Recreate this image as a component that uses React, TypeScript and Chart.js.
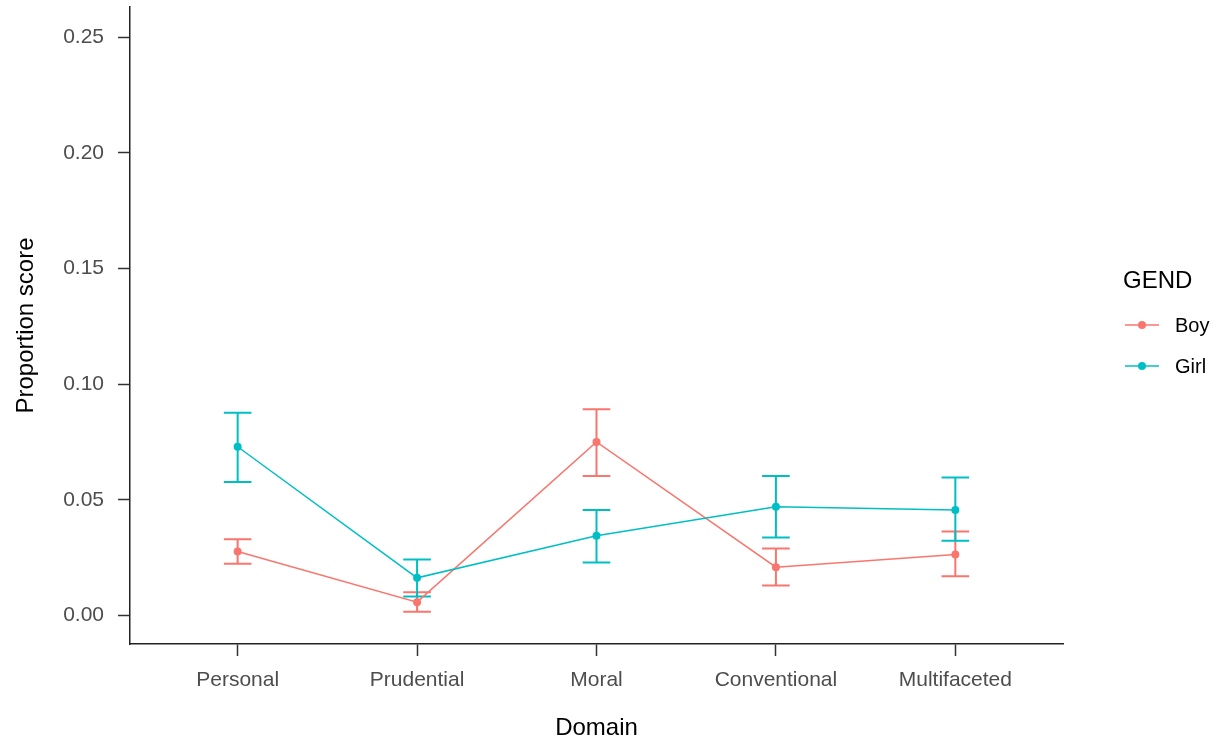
import React, { useEffect, useRef } from "react";
import { Chart, registerables } from "chart.js";

Chart.register(...registerables);

// Domains on the x axis and the two gender groups
const domains = ["Personal", "Prudential", "Moral", "Conventional", "Multifaceted"];
const groups = ["Boy", "Girl"];
const groupColors = ["#F8766D", "#00BFC4"];
const legendTitle = "GEND";

// Mean proportion scores with lower / upper error bounds
const boyMean = [0.0276, 0.0057, 0.075, 0.0208, 0.0263];
const boyLower = [0.0223, 0.0015, 0.0603, 0.0129, 0.0169];
const boyUpper = [0.0329, 0.01, 0.0891, 0.0289, 0.0362];
const girlMean = [0.0729, 0.0162, 0.0344, 0.047, 0.0456];
const girlLower = [0.0577, 0.0081, 0.0228, 0.0336, 0.0323];
const girlUpper = [0.0876, 0.0241, 0.0456, 0.0603, 0.0596];

const yTickValues = [0, 0.05, 0.1, 0.15, 0.2, 0.25];

const FONT = "'Liberation Sans', Arial, sans-serif";
const CAP_HALF = 0.077;

const errorBarPlugin = {
  id: "errorBars",
  beforeDatasetsDraw(chart: any) {
    const { ctx, chartArea } = chart;
    const xs = chart.scales.x;
    const ys = chart.scales.y;
    ctx.save();
    ctx.beginPath();
    ctx.rect(chartArea.left, chartArea.top, chartArea.right - chartArea.left, chartArea.bottom - chartArea.top);
    ctx.clip();
    chart.data.datasets.forEach((ds: any) => {
      ctx.strokeStyle = ds.borderColor;
      ctx.lineWidth = 2;
      ds.data.forEach((pt: any, j: number) => {
        const lo = ys.getPixelForValue(ds.errLow[j]);
        const hi = ys.getPixelForValue(ds.errHigh[j]);
        const xc = xs.getPixelForValue(pt.x);
        const xl = xs.getPixelForValue(pt.x - CAP_HALF);
        const xr = xs.getPixelForValue(pt.x + CAP_HALF);
        ctx.beginPath();
        ctx.moveTo(xc, lo);
        ctx.lineTo(xc, hi);
        ctx.moveTo(xl, lo);
        ctx.lineTo(xr, lo);
        ctx.moveTo(xl, hi);
        ctx.lineTo(xr, hi);
        ctx.stroke();
      });
    });
    ctx.restore();
  },
};

const sideLegendPlugin = {
  id: "sideLegend",
  afterDraw(chart: any) {
    const { ctx } = chart;
    ctx.save();
    ctx.textBaseline = "middle";
    ctx.textAlign = "left";
    ctx.fillStyle = "#000000";
    ctx.font = `24px ${FONT}`;
    ctx.fillText(legendTitle, 1123, 281);
    const rowY = [325, 366];
    groups.forEach((name, i) => {
      const y = rowY[i];
      ctx.strokeStyle = groupColors[i];
      ctx.lineWidth = 1.5;
      ctx.beginPath();
      ctx.moveTo(1125, y);
      ctx.lineTo(1159, y);
      ctx.stroke();
      ctx.fillStyle = groupColors[i];
      ctx.beginPath();
      ctx.arc(1142, y, 4, 0, Math.PI * 2);
      ctx.fill();
      ctx.fillStyle = "#000000";
      ctx.font = `20px ${FONT}`;
      ctx.fillText(name, 1175, y + 1.5);
    });
    ctx.restore();
  },
};

export default function App() {
  const canvasRef = useRef<HTMLCanvasElement | null>(null);

  useEffect(() => {
    const canvas = canvasRef.current;
    if (!canvas) return;
    const means = [boyMean, girlMean];
    const lows = [boyLower, girlLower];
    const highs = [boyUpper, girlUpper];
    const chart = new Chart(canvas, {
      type: "line",
      data: {
        datasets: groups.map((name, i) => ({
          label: name,
          data: means[i].map((v, j) => ({ x: j, y: v })),
          errLow: lows[i],
          errHigh: highs[i],
          borderColor: groupColors[i],
          backgroundColor: groupColors[i],
          borderWidth: 1.5,
          pointRadius: 4,
          pointHoverRadius: 4,
          pointBorderWidth: 0,
          tension: 0,
          order: groups.length - i,
        })) as any,
      },
      options: {
        responsive: false,
        animation: false,
        events: [],
        layout: { padding: { top: 7, right: 155, bottom: 0, left: 0 } },
        plugins: {
          legend: { display: false },
          tooltip: { enabled: false },
        },
        scales: {
          x: {
            type: "linear",
            min: -0.6,
            max: 4.6,
            afterBuildTicks: (scale: any) => {
              scale.ticks = domains.map((_, i) => ({ value: i }));
            },
            afterFit: (scale: any) => {
              scale.height = 99;
              scale.paddingLeft = 0;
              scale.paddingRight = 0;
            },
            ticks: {
              autoSkip: false,
              maxRotation: 0,
              padding: 12,
              color: "#4D4D4D",
              font: { family: FONT, size: 21 },
              callback: (v: any) => domains[Math.round(Number(v))] ?? "",
            },
            grid: {
              display: true,
              drawOnChartArea: false,
              drawTicks: true,
              tickLength: 12,
              tickWidth: 1.5,
              tickColor: "#333333",
            },
            border: { display: true, color: "#222222", width: 1.5 },
            title: {
              display: true,
              text: "Domain",
              color: "#000000",
              font: { family: FONT, size: 24 },
              padding: { top: 0, bottom: 0 },
            },
          },
          y: {
            type: "linear",
            min: -0.01241,
            max: 0.2631,
            afterBuildTicks: (scale: any) => {
              scale.ticks = yTickValues.map((v) => ({ value: v }));
            },
            afterFit: (scale: any) => {
              scale.width = 130;
              scale.paddingTop = 0;
              scale.paddingBottom = 0;
            },
            ticks: {
              padding: 14,
              color: "#4D4D4D",
              font: { family: FONT, size: 21 },
              callback: (v: any) => Number(v).toFixed(2),
            },
            grid: {
              display: true,
              drawOnChartArea: false,
              drawTicks: true,
              tickLength: 12,
              tickWidth: 1.5,
              tickColor: "#333333",
            },
            border: { display: true, color: "#222222", width: 1.5 },
            title: {
              display: true,
              text: "Proportion score",
              color: "#000000",
              font: { family: FONT, size: 24 },
              padding: { top: 12, bottom: 0 },
            },
          },
        },
      },
      plugins: [errorBarPlugin, sideLegendPlugin],
    });
    return () => chart.destroy();
  }, []);

  return (
    <div style={{ position: "absolute", left: 0, top: 0, width: 1218, height: 743, background: "#ffffff" }}>
      <canvas ref={canvasRef} width={1218} height={743} style={{ display: "block" }} />
    </div>
  );
}
